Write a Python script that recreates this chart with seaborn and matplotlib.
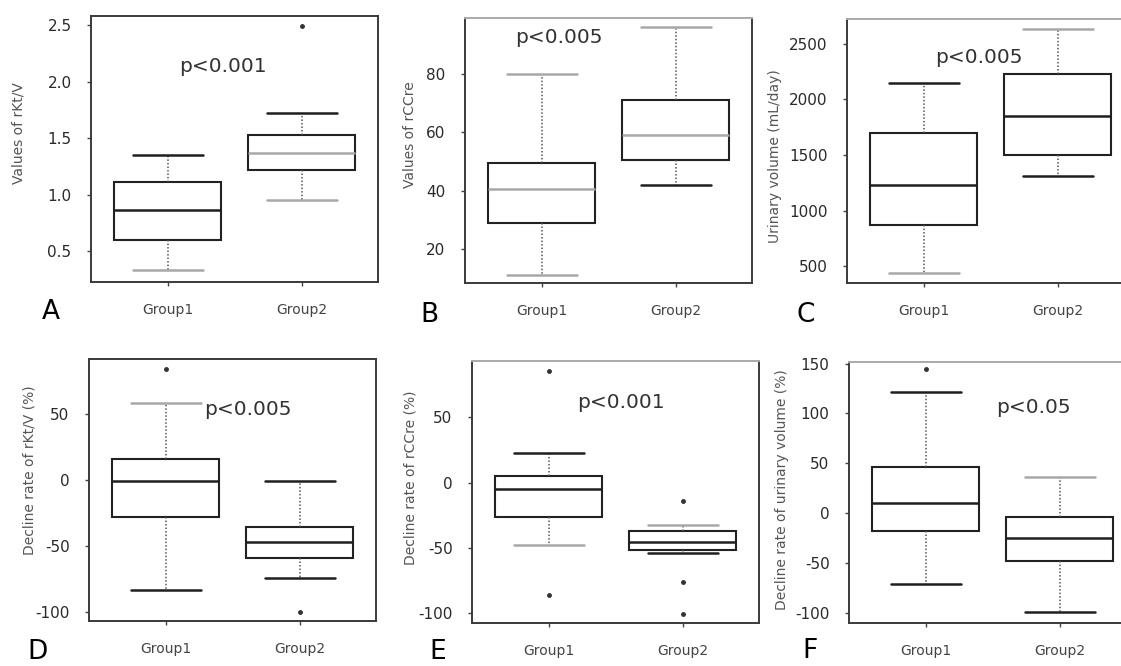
import numpy as np
import pandas as pd
import matplotlib
matplotlib.use("Agg")
import matplotlib.pyplot as plt
import seaborn as sns

groups = ['Group1', 'Group2']

# values per group (whisker ends, quartiles, medians, outliers)
a_g1 = [0.33, 0.45, 0.60, 0.75, 0.86, 0.98, 1.11, 1.25, 1.35]
a_g2 = [0.95, 1.10, 1.22, 1.30, 1.37, 1.45, 1.53, 1.72, 2.49]
b_g1 = [11, 20, 29, 35, 40.5, 45, 49.5, 65, 80]
b_g2 = [42, 46, 50.5, 55, 59, 65, 71, 85, 96]
c_g1 = [435, 650, 869, 1050, 1233, 1450, 1702, 1900, 2149]
c_g2 = [1311, 1400, 1503, 1700, 1851, 2050, 2234, 2450, 2639]
d_g1 = [-83.5, -55, -28.4, -15, -0.6, 8, 15.6, 58.6, 84]
d_g2 = [-100, -74.5, -59.5, -52, -47, -40, -35.5, -20, -1]
e_g1 = [-86, -48, -26.8, -15, -4.6, 0, 4.9, 22.3, 85.8]
e_g2 = [-100.5, -76, -54, -51.7, -49, -47, -45.3, -42, -40, -37, -35, -32.7, -14]
f_g1 = [-71, -40, -17.4, -5, 10, 30, 46.6, 121.6, 145]
f_g2 = [-99.4, -70, -47.4, -35, -24.4, -12, -3.4, 20, 36]

ylabels = ['Values of rKt/V', 'Values of rCCre', 'Urinary volume (mL/day)',
           'Decline rate of rKt/V (%)', 'Decline rate of rCCre (%)',
           'Decline rate of urinary volume (%)']
pvalues = ['p<0.001', 'p<0.005', 'p<0.005', 'p<0.005', 'p<0.001', 'p<0.05']
letters = ['A', 'B', 'C', 'D', 'E', 'F']

sns.set_style('ticks')
plt.rcParams['font.family'] = ['DejaVu Sans']
plt.rcParams['axes.unicode_minus'] = False

W, H = 1121, 666
fig = plt.figure(figsize=(W / 100, H / 100), dpi=100)

DARK, GRAY = '#1e1e1e', '#a8a8a8'

# layout: (left, top, bottom) px, ylim, yticks, tick fmt, p-text pos, ylabel pos (px left of axis, frac), letter pos, light top spine
layout = [
    ((91, 16, 282), (0.226, 2.58), [0.5, 1.0, 1.5, 2.0, 2.5], '{:.1f}', (0.41, 2.084), (72, 0.56), (51, 312), False,
     [(GRAY, DARK, DARK), (GRAY, DARK, GRAY)]),
    ((465, 18, 283), (8.3, 99.2), [20, 40, 60, 80], '{:.0f}', (0.13, 90.6), (55, 0.56), (429, 315), True,
     [(GRAY, GRAY, GRAY), (DARK, GRAY, GRAY)]),
    ((847, 19, 283), (347, 2725), [500, 1000, 1500, 2000, 2500], '{:.0f}', (0.41, 2329), (72, 0.48), (806, 315), True,
     [(GRAY, DARK, DARK), (DARK, GRAY, DARK)]),
    ((89, 359, 621), (-107, 91.7), [-100, -50, 0, 50], '{:.0f}', (0.61, 49.2), (59, 0.576), (38, 652), False,
     [(DARK, GRAY, DARK), (DARK, DARK, DARK)]),
    ((472, 361, 623), (-107.7, 93.2), [-100, -50, 0, 50], '{:.0f}', (0.54, 57), (62, 0.553), (438, 652), True,
     [(GRAY, DARK, DARK), (DARK, GRAY, DARK)]),
    ((849, 362, 623), (-110, 151.6), [-100, -50, 0, 50, 100, 150], '{:.0f}', (0.80, 100.3), (67, 0.51), (810, 651), True,
     [(DARK, DARK, DARK), (DARK, GRAY, DARK)]),
]
data = [(a_g1, a_g2), (b_g1, b_g2), (c_g1, c_g2), (d_g1, d_g2), (e_g1, e_g2), (f_g1, f_g2)]

AXW = 287
for i, ((g1, g2), cfg) in enumerate(zip(data, layout)):
    (left, top, bottom), ylim, yticks, fmt, ppos, lpos, letpos, light_top, elcolors = cfg
    ax = fig.add_axes([left / W, 1 - bottom / H, AXW / W, (bottom - top) / H])

    df = pd.DataFrame({'group': [groups[0]] * len(g1) + [groups[1]] * len(g2),
                       'value': g1 + g2})
    sns.boxplot(data=df, x='group', y='value', ax=ax, width=0.8, color='white',
                linecolor=DARK, linewidth=1.2, capwidths=0.52, saturation=1,
                whiskerprops=dict(color='#555555', linestyle=(0, (1, 1.3)), linewidth=1.1),
                flierprops=dict(marker='o', markersize=2.5, markerfacecolor='#333333',
                                markeredgecolor='#333333'))

    # per-element shades (lines come as whisker lo/hi, cap lo/hi, median, fliers per box)
    for j in range(2):
        lines = ax.lines[6 * j:6 * j + 6]
        clo, chi, med = elcolors[j]
        lines[2].set_color(clo); lines[2].set_linewidth(1.8)
        lines[3].set_color(chi); lines[3].set_linewidth(1.8)
        lines[4].set_color(med); lines[4].set_linewidth(1.8)
    for p in ax.patches:
        p.set_edgecolor('#222222')
        p.set_linewidth(1.5)
        p.set_facecolor('white')

    ax.set_xlim(-0.575, 1.57)
    ax.set_ylim(*ylim)
    ax.set_yticks(yticks)
    ax.set_yticklabels([fmt.format(v) for v in yticks])
    ax.set_xlabel('')
    ax.set_ylabel(ylabels[i], fontsize=10, color='#555555')
    ax.yaxis.label.set_va('center')
    ax.yaxis.set_label_coords(-lpos[0] / AXW, lpos[1])

    ax.tick_params(axis='both', direction='out', length=3, width=1, color='#444444',
                   labelcolor='#2a2a2a')
    ax.tick_params(axis='y', pad=11, labelsize=11)
    ax.tick_params(axis='x', pad=12, labelsize=10, labelcolor='#444444')

    for s in ax.spines.values():
        s.set_visible(True)
        s.set_color('#3a3a3a')
        s.set_linewidth(1.4)
    if light_top:
        ax.spines['top'].set_color('#aaaaaa')

    ax.text(ppos[0], ppos[1], pvalues[i], ha='center', va='baseline',
            fontsize=14.5, color='#333333')
    fig.text(letpos[0] / W, 1 - letpos[1] / H, letters[i], ha='center', va='center',
             fontsize=19, color='black')

fig.savefig('out.png', dpi=100)
